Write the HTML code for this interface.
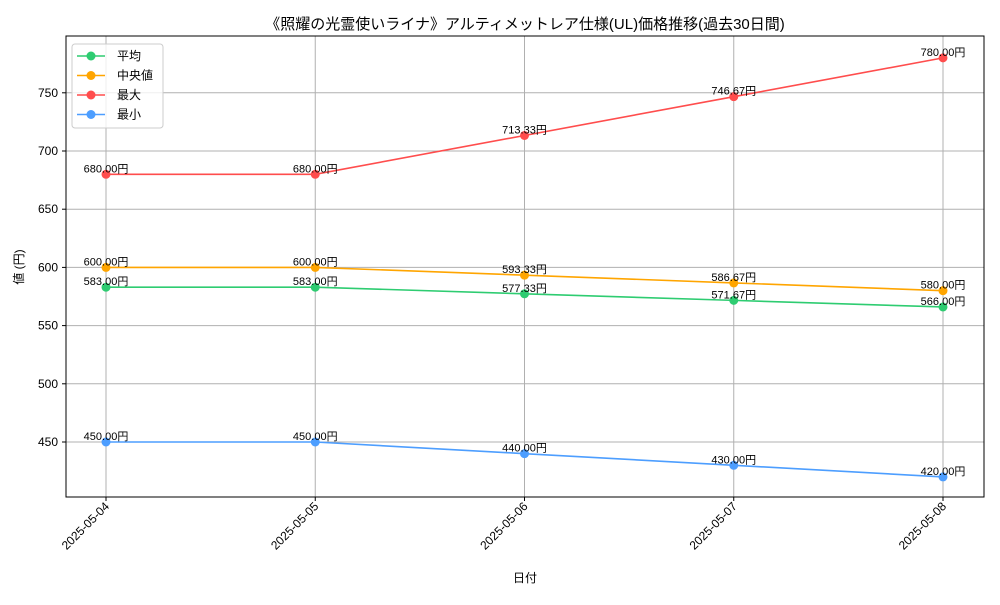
<!DOCTYPE html>
<html><head><meta charset="utf-8"><style>
body{margin:0;background:#fff;}
svg text{font-family:"Liberation Sans","Noto Sans CJK JP",sans-serif;fill:#000;}
</style></head><body>
<svg id="chart" width="1000" height="600" xmlns="http://www.w3.org/2000/svg">
<text x="525" y="29" font-size="15" text-anchor="middle">《照耀の光霊使いライナ》アルティメットレア仕様(UL)価格推移(過去30日間)</text>
<g id="grid"></g>
<g id="series"></g>
<rect x="66" y="36" width="918" height="461" fill="none" stroke="#000" stroke-width="1"/>
<g id="axes"></g>
<text x="525" y="582" font-size="12" text-anchor="middle">日付</text>
<text transform="translate(23,267) rotate(-90)" font-size="12" text-anchor="middle">値 (円)</text>
<g>
<rect x="72" y="44" width="91" height="84" fill="#fff" fill-opacity="0.8" stroke="#ccc" rx="3"/>
<g id="legend"></g>
</g>
</svg>
<script>
const dates=["2025-05-04","2025-05-05","2025-05-06","2025-05-07","2025-05-08"];
const avgVals=[583.00,583.00,577.33,571.67,566.00];
const medVals=[600.00,600.00,593.33,586.67,580.00];
const maxVals=[680.00,680.00,713.33,746.67,780.00];
const minVals=[450.00,450.00,440.00,430.00,420.00];
const yTicks=[450,500,550,600,650,700,750];
const seriesNames=["平均","中央値","最大","最小"];
const NS="http://www.w3.org/2000/svg";
function xPos(i){return 106+i*209.25;}
function yPos(v){return 442-(v-450)*1.164;}
function mk(tag,attrs,parent){const e=document.createElementNS(NS,tag);for(const k in attrs)e.setAttribute(k,attrs[k]);parent.appendChild(e);return e;}
const grid=document.getElementById('grid'),axes=document.getElementById('axes'),ser=document.getElementById('series'),leg=document.getElementById('legend');
dates.forEach((d,i)=>{
  const x=xPos(i);
  const l=mk('line',{x1:x,x2:x,y1:36,y2:497,stroke:'#b0b0b0','stroke-width':1},grid);
  
  
  mk('line',{x1:x,x2:x,y1:497,y2:501,stroke:'#000'},axes);
  const t=mk('text',{transform:`translate(${x+4},${507}) rotate(-45)`,'font-size':12,'text-anchor':'end'},axes);
  t.textContent=d;
  
  
});
yTicks.forEach(v=>{
  const y=yPos(v);
  const l=mk('line',{x1:66,x2:984,y1:y,y2:y,stroke:'#b0b0b0','stroke-width':1},grid);
  
  
  mk('line',{x1:62,x2:66,y1:y,y2:y,stroke:'#000'},axes);
  const t=mk('text',{x:58,y:y+4,'font-size':12,'text-anchor':'end'},axes);
  t.textContent=v;
  
  
});
const allSeries=[avgVals,medVals,maxVals,minVals];
const colors=["#2ecc71","#ffa500","#ff4d4d","#4d9eff"];
allSeries.forEach((vals,s)=>{
  const g=mk('g',{},ser);
  
  
  const pts=vals.map((v,i)=>xPos(i)+','+yPos(v)).join(' ');
  const pl=mk('polyline',{points:pts,fill:'none',stroke:colors[s],'stroke-width':1.6},g);
  
  
  vals.forEach((v,i)=>{
    const c=mk('circle',{cx:xPos(i),cy:yPos(v),r:4.5,fill:colors[s]},g);
    
    
    const t=mk('text',{x:xPos(i),y:yPos(v)-2,'font-size':11,'text-anchor':'middle'},g);
    t.textContent=v.toFixed(2)+'円';
    
    
  });
  const ly=56+s*19.5;
  const le=mk('g',{},leg);
  
  
  mk('line',{x1:77,x2:105,y1:ly,y2:ly,stroke:colors[s],'stroke-width':1.6},le);
  mk('circle',{cx:91,cy:ly,r:4.5,fill:colors[s]},le);
  const lt=mk('text',{x:117,y:ly+4,'font-size':12},le);
  lt.textContent=seriesNames[s];
});
</script>
</body></html>
